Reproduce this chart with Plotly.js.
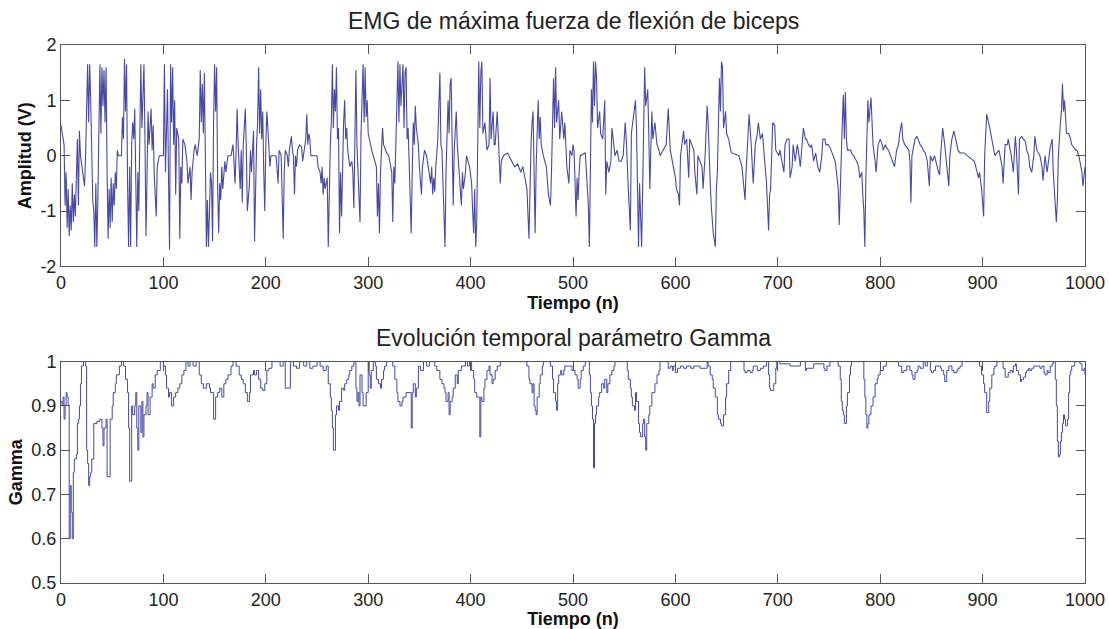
<!DOCTYPE html>
<html>
<head>
<meta charset="utf-8">
<script src="https://cdn.plot.ly/plotly-3.0.1.min.js"></script>
<style>html,body{margin:0;padding:0;background:#fff;}#chart{width:1109px;height:629px;}</style>
</head>
<body>
<div id="chart"></div>
<script>
// ---- data: [sample index, value] ----
const emgSamples = [
[0,0.55],[1,0.45],[2,0.3],[3,0.2],[4,-0.9],[5,-0.3],[6,-1.3],[7,-0.6],[8,-1.45],[9,-0.9],[10,-1.35],[11,-0.5],[12,-1.2],[13,-0.7],[14,-1.1],[15,-0.4],[16,0.3],[17,-0.9],[18,0.45],[19,0],[23,-0.55],[24,0],
[25,0.8],[26,1.65],[27,0.6],[28,1.65],[29,1.0],[30,-0.3],[31,-0.8],[32,-1.0],[33,-1.65],[34,-0.5],[35,-1.65],[36,-0.8],[37,0.3],[38,1.65],[39,0.4],[40,1.6],[41,0.9],[42,1.55],[43,0.6],[44,1.6],[45,-0.3],[46,-1.5],[47,-0.6],[48,-1.3],[49,-0.4],
[50,-1.2],[51,-0.5],[52,-0.9],[53,-0.3],[54,-0.6],[55,0.1],[56,0],[59,0],[60,0.7],[61,0.3],[62,1.75],[63,0.8],[64,1.65],[65,-0.5],[66,-1.65],[67,-0.2],[68,-1.65],[69,0.2],[70,0.6],[71,0.3],[72,0.85],[73,-0.4],[74,-1.65],[75,-0.3],
[76,-1.0],[77,0.4],[78,1.65],[79,0.5],[80,1.2],[81,1.65],[82,0.3],[83,-1.45],[84,-0.4],[85,0.8],[86,0.2],[88,0.85],[89,0.1],[90,0.55],[91,-0.3],[93,-1.1],[94,-0.2],[96,0],[100,0],
[101,1.65],[102,-0.3],[103,0.5],[104,1.2],[105,-0.4],[106,-1.7],[107,1.65],[108,0.6],[109,1.6],[110,0.2],[111,1.0],[112,-0.7],[113,0.5],[115,0.3],[116,-1.5],[117,-0.2],[118,-0.5],[119,0.3],[121,0.2],[123,-0.1],[124,-0.5],
[126,-0.2],[127,-0.8],[128,-0.3],[130,0.1],[131,0.2],[133,0],[135,0.3],[136,1.55],[137,0.6],[138,1.3],[139,0.4],[140,1.5],[141,-0.6],[142,-1.65],[143,-0.8],[144,-1.65],[145,-1.0],[146,-0.3],[147,-0.5],[148,-1.55],[149,0.6],
[150,1.65],[151,0.8],[152,1.6],[153,-0.6],[154,-1.4],[155,-0.5],[156,-0.8],[157,-0.2],[158,-0.6],[160,-0.1],[161,-0.3],[163,0],[166,0],[168,0.2],[170,-0.5],[171,0.1],[172,0.85],[173,0.2],[175,-0.6],
[176,0.1],[177,-0.85],[178,0.2],[179,0.6],[180,0.85],[181,0.1],[182,-1.0],[184,-0.5],[185,0.1],[186,-0.3],[188,0.45],[189,-1.55],[190,-0.2],[191,0.2],[192,0.6],[193,1.6],[194,0.4],[195,1.2],[196,0.3],[197,0.8],[198,-0.3],[199,-1.0],
[200,0.2],[201,0.8],[202,0.5],[203,0.1],[204,-0.2],[205,0],[210,0],[212,-0.5],[213,0.1],[215,0],[217,-1.5],[218,-0.3],[219,0.1],[221,0],[222,-0.2],[223,0.1],[225,0.35],[226,0.1],[227,0],[228,-0.7],[229,0],[230,-0.2],[231,0.1],[233,0.2],
[235,0.15],[236,-0.1],[238,0.15],[239,0.3],[240,0.75],[241,0.2],[242,0.4],[243,0.3],[244,0],[250,0],[251,-0.2],[253,-0.3],[254,-0.5],[255,-0.2],[256,-0.7],[257,-0.4],[258,-0.6],[260,-0.4],[261,-1.65],[262,-0.5],
[263,0.2],[264,0.6],[265,1.65],[266,0.5],[267,1.2],[268,0.8],[269,1.6],[270,0.3],[271,0.5],[272,-1.4],[273,-0.3],[274,-1.1],[275,0.2],[276,0.6],[277,1.0],[278,0.3],[279,0.5],[280,0.1],[282,-0.2],[284,-0.1],[285,-0.3],[286,-0.95],
[287,0.3],[288,1.55],[289,0.2],[290,-0.2],[291,-0.6],[292,-1.2],[293,0.4],[294,0.9],[295,1.65],[296,0.6],[297,1.6],[298,0.7],[299,1.0],[300,0.4],[302,0.2],[304,0.05],[305,0],[308,-0.2],[309,-1.1],[310,-0.5],[311,-1.4],[312,-0.3],
[314,0.5],[315,0.2],[318,0.05],[320,0],[323,-0.3],[324,-1.2],[325,-0.2],[326,-0.5],[327,0.2],[328,0.8],[329,1.7],[330,0.6],[331,1.65],[332,0.9],[333,1.3],[334,1.65],[335,0.5],[336,1.5],[337,1.6],[338,0.3],[339,0.5],
[340,-0.3],[341,-0.8],[342,-1.4],[343,-0.3],[344,0.6],[345,0.2],[346,0.9],[347,0.5],[349,0.2],[350,-0.2],[352,-0.7],[353,-0.2],[355,0.1],[357,0],[359,-0.3],[361,-0.5],[362,-0.2],[363,-0.7],[364,-0.4],[365,-0.65],[366,-0.2],
[368,0.3],[370,1.5],[371,0.2],[372,0.1],[373,-0.5],[374,-0.9],[375,-1.65],[376,-0.3],[377,0.7],[378,1.0],[379,0.4],[380,1.3],[381,1.4],[382,0.2],[383,-0.9],[384,0.1],[385,0.4],[386,0.8],[387,0.2],[389,-0.4],[391,-0.9],[392,-0.3],
[393,-0.6],[395,-0.3],[396,0],[399,-0.2],[401,-0.5],[402,-1.0],[403,-1.4],[404,-0.6],[405,-1.65],[406,-1.2],[407,0.4],[408,1.7],[409,0.5],[410,1.5],[411,1.7],[412,0.4],[414,0.6],[415,0.3],[416,0.1],[418,0.2],[419,1.4],
[420,0.3],[421,0.6],[422,0.8],[423,0.2],[424,0.2],[426,0.8],[427,0.4],[429,-0.5],[430,-0.1],[432,0],[436,0.05],[440,-0.1],[443,-0.2],[446,-0.15],[449,-0.3],[451,-0.2],[453,-0.4],[455,-0.6],[457,-1.5],[458,-0.4],
[459,0.2],[460,0.6],[461,0.8],[462,-0.3],[463,-1.4],[464,-0.2],[466,1.0],[467,0.3],[468,0.7],[469,0.2],[471,0],[474,-0.2],[476,-0.7],[478,-0.9],[479,-0.3],[481,1.4],[482,0.5],[483,1.6],[484,0.6],[486,1.0],[487,0.3],
[489,0.8],[490,0.5],[491,0.3],[492,0.6],[494,-0.2],[496,-0.5],[497,0.1],[499,0],[500,0.2],[501,0.1],[502,-0.6],[503,-1.1],[504,-0.4],[505,-0.8],[506,-0.3],[507,0],[512,0.05],[513,-0.3],[514,-0.5],[515,-0.9],[516,-1.65],
[517,0.2],[518,1.2],[519,0.6],[520,1.7],[521,0.9],[522,1.7],[523,1.4],[524,0.5],[526,0.8],[527,0.4],[529,0.3],[531,1.0],[532,-0.7],[533,-0.1],[535,-0.3],[537,-0.1],[538,0.5],[540,0.2],[541,0],[543,0.1],[545,-0.1],[547,-0.1],[549,0],
[551,0.6],[552,0.3],[554,-0.6],[556,-1.35],[557,0.4],[559,0.7],[561,1.0],[562,0.5],[563,-0.9],[564,-1.65],[565,-0.5],[566,-1.1],[567,-1.65],[568,-0.6],[570,1.6],[571,0.9],[573,1.2],[574,0.4],[575,-0.6],[577,0.8],[578,0.3],
[580,0.6],[582,0.2],[584,0.1],[585,0],[591,0.2],[593,0.85],[595,0.1],[597,-0.1],[598,-0.2],[600,-0.4],[601,-0.6],[603,-0.7],[604,-0.9],[605,0],[608,0.45],[609,0.2],[611,0.3],[613,-0.4],[614,0.3],[616,0.2],[618,0.1],[619,-0.3],
[621,-0.7],[622,0],[626,-0.2],[627,-0.6],[629,0],[631,0.9],[632,0.6],[634,-0.5],[635,-0.9],[637,-1.4],[639,-1.65],[640,-0.6],[641,-0.3],[643,1.4],[644,0.8],[645,1.7],[646,1.6],[647,0.5],[649,0.8],[650,0.4],[652,0.3],[654,0.1],
[655,0.05],[662,0],[665,-0.2],[667,-0.6],[668,-0.8],[669,-0.3],[671,0.3],[672,0.75],[674,0.2],[675,-0.3],[676,-0.5],[678,0.2],[680,0.4],[681,0.6],[683,0.3],[685,0.4],[686,0.2],[688,-0.2],[689,-0.5],[691,-1.35],[692,-0.7],
[693,-0.6],[695,0.6],[697,0.55],[698,0.1],[701,0],[702,0.1],[704,-0.1],[706,-0.3],[707,0.2],[709,0.3],[711,0.3],[712,-0.4],[714,-0.2],[715,0.2],[717,-0.1],[719,0.2],[720,0.1],[722,-0.2],[725,0.5],[727,0.3],[728,0.3],[730,0.2],
[732,0.15],[733,0.2],[735,-0.1],[737,0.05],[739,-0.2],[741,-0.3],[743,0],[744,0.3],[746,0.3],[747,0.2],[749,0.2],[751,0.15],[752,0.1],[754,0],[756,-0.1],[757,-0.25],[759,-0.6],[760,-1.25],[761,-0.5],[763,0.6],[764,1.1],
[765,0.3],[766,1.15],[767,0.3],[768,0.1],[771,0.1],[772,0.05],[774,0],[777,-0.1],[779,-0.2],[780,-0.4],[782,-0.3],[783,-0.7],[784,-1.0],[785,-1.65],[786,-0.4],[788,1.0],[789,0.6],[791,1.05],[792,0.4],[793,0.2],[795,-0.1],
[796,-0.3],[798,0.2],[800,0.3],[802,0.2],[803,0.1],[805,0.2],[806,0.15],[808,0.1],[810,0],[814,-0.2],[816,0.1],[818,0.2],[819,0.4],[821,0.6],[822,0.3],[824,0.2],[826,0.15],[828,0.1],[829,-0.1],[830,-0.85],[831,0],
[834,0.3],[836,0.35],[837,0.3],[839,0.2],[841,0.15],[842,0.1],[844,0.05],[846,-0.1],[848,-0.55],[849,0],[851,-0.1],[853,0],[857,-0.3],[858,-0.35],[859,0],[861,0.5],[863,0.2],[865,-0.2],[867,-0.55],[868,0],[870,0.3],
[872,0.45],[874,0.25],[876,0.1],[878,0.05],[882,0.05],[885,0],[892,-0.1],[894,-0.25],[896,-0.4],[897,-0.3],[899,-0.6],[901,-1.1],[902,0],[904,0.75],[906,0.6],[907,0.5],[909,0.3],[911,0.1],[912,0],[914,0.05],[916,0.1],
[917,0],[919,-0.2],[920,-0.5],[922,0.2],[924,0.2],[925,0.3],[927,0.1],[928,0],[930,-0.3],[932,0.35],[933,0.1],[935,-0.7],[936,0.3],[938,0.35],[940,0.3],[942,0.25],[943,0.1],[945,0],[946,-0.2],[948,-0.3],[950,0],[951,0.35],
[953,0.1],[956,0],[958,-0.2],[959,-0.45],[961,0],[963,-0.3],[964,-0.15],[966,0.15],[968,0.3],[969,-0.3],[971,-0.9],[972,-1.2],[973,-0.8],[974,0],[976,0.6],[977,0.8],[978,1.3],[979,0.8],[980,1.0],[981,0.6],[982,0.4],
[984,0.4],[986,0.3],[987,0.2],[989,0.15],[991,0.1],[992,0.1],[994,0],[995,-0.1],[997,-0.3],[998,-0.55],[999,-0.4],[1000,-0.2]
];

const gammaSamples = [
[0,0.91],[1,0.9],[2,0.92],[3,0.87],[4,0.9],[5,0.93],[6,0.92],[7,0.9],[8,0.6],[9,0.72],[10,0.66],[11,0.6],[12,0.75],[13,0.78],[15,0.79],[16,0.86],[17,0.87],[18,0.9],[19,0.95],[20,0.99],[22,1.0],[24,0.99],
[25,0.8],[26,0.77],[27,0.72],[28,0.74],[29,0.75],[30,0.78],[32,0.86],[35,0.865],[38,0.87],[40,0.85],[41,0.81],[42,0.85],[44,0.87],[45,0.74],[47,0.74],[48,0.87],[50,0.9],[51,0.93],[53,0.95],[54,0.97],[57,0.99],[59,1.0],
[61,0.99],[63,0.96],[65,0.93],[66,0.85],[67,0.73],[69,0.9],[70,0.88],[72,0.9],[73,0.93],[74,0.85],[75,0.8],[76,0.9],[78,0.84],[79,0.91],[80,0.83],[81,0.88],[83,0.9],[84,0.93],[85,0.88],[87,0.92],[89,0.95],[90,0.94],
[92,0.97],[94,0.98],[97,1.0],[100,0.99],[102,0.97],[103,0.94],[105,0.92],[106,0.93],[108,0.9],[110,0.92],[112,0.93],[114,0.94],[116,0.95],[118,0.97],[120,0.98],[122,1.0],[124,0.99],[126,1.0],[129,0.99],[132,1.0],
[135,0.97],[137,0.95],[139,0.94],[142,0.95],[145,0.94],[146,0.93],[149,0.87],[151,0.92],[153,0.93],[155,0.94],[157,0.92],[159,0.95],[161,0.96],[163,0.97],[166,0.99],[168,1.0],[171,0.99],[174,0.97],[176,0.96],[178,0.95],
[180,0.93],[182,0.91],[184,0.93],[185,0.97],[188,0.98],[189,0.97],[191,0.98],[193,0.96],[195,0.94],[197,0.935],[199,0.95],[201,0.98],[203,0.985],[206,1.0],[211,1.0],[214,0.99],[217,1.0],[219,0.94],[223,0.94],[224,1.0],
[227,0.99],[230,0.985],[233,1.0],[237,0.99],[240,1.0],[243,0.985],[246,0.99],[250,1.0],[253,0.99],[256,0.98],[259,0.99],[261,0.95],[263,0.92],[264,0.89],[265,0.85],[266,0.8],[268,0.88],[269,0.9],[271,0.89],[272,0.91],
[274,0.94],[276,0.935],[277,0.95],[279,0.96],[281,0.97],[282,0.98],[284,0.99],[286,1.0],[288,0.94],[289,0.91],[290,0.93],[291,0.9],[292,0.97],[294,0.93],[295,0.9],[297,0.9],[298,0.93],[300,1.0],[301,0.97],[302,0.94],
[303,0.98],[305,1.0],[307,0.99],[308,0.96],[310,0.95],[312,0.94],[313,0.96],[315,0.98],[316,0.99],[318,1.0],[324,0.99],[326,0.96],[328,0.93],[329,0.91],[331,0.9],[333,0.91],[334,0.92],[337,0.93],[341,0.93],[342,0.85],
[343,0.93],[344,0.95],[346,0.92],[347,0.94],[349,0.99],[351,0.98],[354,1.0],[357,0.99],[360,1.0],[365,0.99],[367,0.98],[370,0.96],[372,0.95],[374,0.94],[375,0.93],[376,0.91],[378,0.93],[379,0.88],[380,0.91],[382,0.92],
[383,0.94],[385,0.97],[387,0.95],[388,0.98],[391,0.99],[395,1.0],[397,0.99],[399,1.0],[401,0.98],[403,0.96],[404,0.93],[406,0.92],[408,0.92],[409,0.83],[410,0.92],[411,0.91],[413,0.94],[414,0.96],[416,0.98],[418,0.99],
[419,0.97],[421,0.95],[422,0.96],[424,0.98],[426,0.99],[429,1.0],[452,1.0],[455,0.99],[457,0.96],[458,0.95],[460,0.93],[461,0.95],[462,0.9],[463,0.89],[464,0.88],[465,0.92],[467,0.95],[468,0.97],[470,0.99],[471,1.0],
[478,0.99],[480,0.96],[481,0.93],[483,0.91],[484,0.89],[485,0.95],[486,0.97],[488,0.98],[489,0.97],[491,0.98],[492,0.99],[495,0.99],[499,0.98],[502,0.97],[504,0.96],[505,0.94],[507,0.96],[508,0.98],[510,0.99],[512,1.0],
[515,1.0],[516,0.97],[517,0.93],[518,0.9],[519,0.87],[520,0.76],[521,0.86],[522,0.88],[523,0.9],[525,0.92],[526,0.93],[528,0.95],[530,0.94],[531,0.96],[533,0.93],[534,0.95],[536,0.97],[538,0.98],[540,0.99],[541,1.0],
[551,1.0],[553,0.98],[554,0.96],[556,0.94],[557,0.92],[558,0.9],[560,0.89],[561,0.93],[562,0.91],[564,0.86],[565,0.84],[566,0.83],[568,0.86],[569,0.87],[570,0.83],[571,0.8],[572,0.86],[574,0.88],[575,0.9],[577,0.93],
[579,0.93],[580,0.95],[582,0.97],[584,0.98],[585,1.0],[592,1.0],[593,0.985],[595,0.99],[597,0.98],[598,0.99],[600,0.975],[602,0.985],[605,0.99],[608,0.985],[611,0.99],[615,0.985],[618,0.99],[624,0.985],[631,1.0],
[632,0.99],[634,0.97],[636,0.96],[637,0.94],[639,0.92],[641,0.88],[642,0.87],[644,0.86],[645,0.855],[647,0.88],[649,0.92],[650,0.95],[652,0.98],[654,1.0],[663,1.0],[667,0.98],[668,0.975],[670,0.98],[673,0.975],
[675,0.98],[676,0.99],[680,0.98],[683,0.985],[686,0.99],[689,1.0],[691,0.97],[692,0.94],[693,0.935],[696,0.95],[698,0.985],[699,1.0],[702,0.995],[709,0.995],[712,0.99],[722,1.0],[727,0.98],[728,0.985],[735,0.995],
[745,0.985],[746,0.98],[748,0.99],[751,1.0],[757,1.0],[759,0.99],[761,0.96],[762,0.91],[763,0.89],[764,0.88],[765,0.86],[767,0.9],[768,0.93],[770,0.97],[771,0.99],[772,1.0],[783,1.0],[784,0.96],[785,0.92],[786,0.88],
[787,0.85],[788,0.86],[789,0.88],[791,0.9],[793,0.92],[795,0.95],[797,0.96],[798,0.97],[800,0.98],[803,0.99],[806,1.0],[816,1.0],[818,0.99],[821,0.975],[823,0.98],[826,0.99],[829,0.98],[831,0.97],[832,0.96],[834,0.975],
[836,0.98],[837,0.99],[839,0.985],[842,1.0],[844,0.99],[846,1.0],[849,0.98],[850,0.975],[852,0.98],[854,0.99],[859,0.985],[860,0.98],[862,0.97],[863,0.955],[865,0.98],[867,0.99],[870,0.98],[872,0.975],[875,0.98],
[876,0.985],[878,0.99],[880,1.0],[897,0.99],[899,0.97],[901,0.95],[902,0.93],[904,0.885],[906,0.91],[907,0.94],[909,0.97],[911,0.985],[912,0.99],[914,1.0],[917,1.0],[920,0.985],[922,0.965],[924,0.965],[925,0.975],
[927,0.98],[929,0.975],[930,0.99],[932,0.995],[933,0.98],[935,0.97],[937,0.955],[938,0.96],[940,0.965],[942,0.975],[943,0.98],[945,0.985],[946,0.98],[948,0.985],[950,0.99],[956,0.985],[958,0.99],[960,0.975],[961,0.97],
[963,0.98],[964,0.975],[966,0.99],[968,0.995],[969,1.0],[971,0.96],[972,0.9],[973,0.82],[974,0.785],[975,0.79],[976,0.82],[977,0.84],[978,0.86],[979,0.88],[980,0.87],[981,0.855],[982,0.855],[983,0.87],[984,0.93],
[985,0.97],[986,0.98],[987,0.99],[990,1.0],[994,1.0],[995,0.995],[997,0.98],[999,0.985],[1000,0.97]
];

const xTicks = [0,100,200,300,400,500,600,700,800,900,1000];
const emgTicks = [-2,-1,0,1,2];
const emgTickText = ['-2','-1','0','1','2'];
const gammaTicks = [0.5,0.6,0.7,0.8,0.9,1];
const gammaTickText = ['0.5','0.6','0.7','0.8','0.9','1'];

const titleTop = 'EMG de máxima fuerza de flexión de biceps';
const titleBottom = 'Evolución temporal parámetro Gamma';
const xLabel = 'Tiempo (n)';
const yLabelTop = 'Amplitud (V)';
const yLabelBottom = 'Gamma';

// ---- drawing ----
const FONT = '"Liberation Sans", Arial, Helvetica, sans-serif';
const lineColor = '#4848a6';
const axisColor = '#555555';

const traces = [
  {x: emgSamples.map(p => p[0]), y: emgSamples.map(p => p[1]), type: 'scatter', mode: 'lines',
   line: {color: lineColor, width: 1.1}, xaxis: 'x', yaxis: 'y', hoverinfo: 'skip'},
  {x: gammaSamples.map(p => p[0]), y: gammaSamples.map(p => p[1]), type: 'scatter', mode: 'lines',
   line: {color: lineColor, width: 1, shape: 'hv'}, xaxis: 'x2', yaxis: 'y2', hoverinfo: 'skip'}
];

function xAxis(anchor) {
  return {
    anchor: anchor, domain: [0, 1], range: [0, 1000], tickvals: xTicks, ticktext: xTicks.map(String),
    ticks: 'inside', ticklen: 9, tickwidth: 1, tickcolor: axisColor,
    showline: true, linecolor: axisColor, linewidth: 1, mirror: 'ticks',
    showgrid: false, zeroline: false, fixedrange: true,
    tickfont: {family: FONT, size: 18, color: '#222'},
    title: {text: xLabel, font: {family: FONT, size: 18, color: '#111', weight: 'bold'}, standoff: 2}
  };
}
function yAxis(anchor, domain, range, tv, tt, label, standoff) {
  return {
    anchor: anchor, domain: domain, range: range, tickvals: tv, ticktext: tt,
    ticks: 'inside', ticklen: 9, tickwidth: 1, tickcolor: axisColor,
    showline: true, linecolor: axisColor, linewidth: 1, mirror: 'ticks',
    showgrid: false, zeroline: false, fixedrange: true,
    tickfont: {family: FONT, size: 18, color: '#222'},
    title: {text: label, font: {family: FONT, size: 18, color: '#111', weight: 'bold'}, standoff: standoff}
  };
}

const layout = {
  width: 1109, height: 629,
  margin: {l: 61, r: 24, t: 45, b: 46},
  paper_bgcolor: '#ffffff', plot_bgcolor: '#ffffff',
  showlegend: false,
  font: {family: FONT, size: 18, color: '#222'},
  xaxis: xAxis('y'),
  yaxis: yAxis('x', [0.5885, 1], [-2, 2], emgTicks, emgTickText, yLabelTop, 4),
  xaxis2: xAxis('y2'),
  yaxis2: yAxis('x2', [0, 0.4115], [0.5, 1], gammaTicks, gammaTickText, yLabelBottom, 4),
  annotations: [
    {text: titleTop, xref: 'paper', yref: 'paper', x: 0.5, y: 1.0453, xanchor: 'center', yanchor: 'middle',
     showarrow: false, font: {family: FONT, size: 23, color: '#222'}},
    {text: titleBottom, xref: 'paper', yref: 'paper', x: 0.5, y: 0.456, xanchor: 'center', yanchor: 'middle',
     showarrow: false, font: {family: FONT, size: 23, color: '#222'}}
  ]
};

Plotly.newPlot('chart', traces, layout, {displayModeBar: false, staticPlot: true});
</script>
</body>
</html>
